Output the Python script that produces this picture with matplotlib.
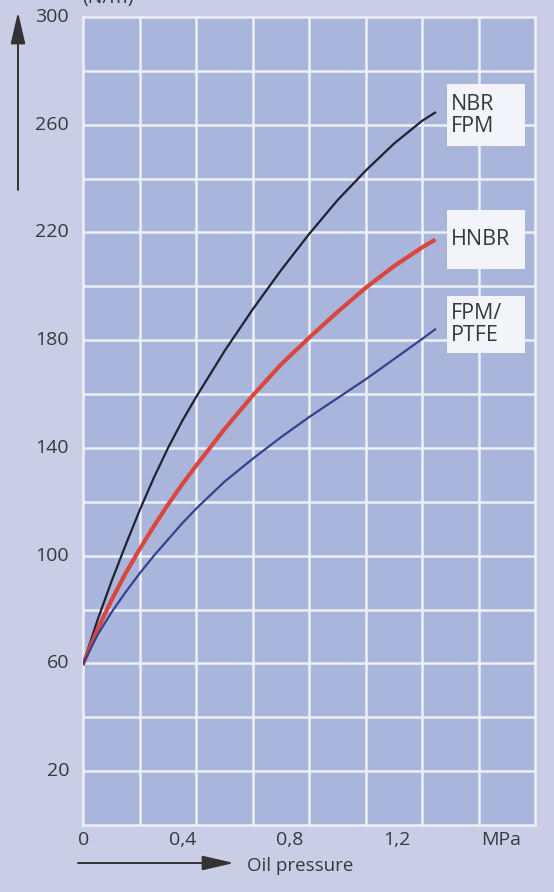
import matplotlib
matplotlib.use('Agg')
import matplotlib.pyplot as plt
from matplotlib.patches import Rectangle, FancyArrowPatch
import matplotlib.transforms as mtransforms

# Данные
pressure_nbr = [0, 0.05, 0.1, 0.15, 0.2, 0.25, 0.3, 0.35, 0.4, 0.5, 0.6, 0.7, 0.8, 0.9, 1.0, 1.1, 1.2, 1.245]
force_nbr = [60, 76, 90.5, 104, 117, 129, 140, 150, 159, 176, 191.5, 206, 219.5, 232, 243, 253, 261.5, 264.5]

pressure_hnbr = [0, 0.05, 0.1, 0.15, 0.2, 0.25, 0.3, 0.35, 0.4, 0.5, 0.6, 0.7, 0.8, 0.9, 1.0, 1.1, 1.2, 1.24]
force_hnbr = [60, 72.5, 83.5, 93.5, 102.5, 111, 119, 126.5, 133.5, 147, 159.5, 171, 181, 190.5, 199.5, 207.5, 214.5, 217]

pressure_ptfe = [0, 0.05, 0.1, 0.15, 0.2, 0.25, 0.3, 0.35, 0.4, 0.5, 0.6, 0.7, 0.8, 0.9, 1.0, 1.1, 1.2, 1.245]
force_ptfe = [60, 70.5, 79, 86.5, 93.5, 100, 106, 112, 117.5, 127.5, 136, 144, 151.5, 158.5, 165.5, 173, 180.5, 184]

y_ticks = [20, 60, 100, 140, 180, 220, 260, 300]
x_labels = ['0', '0,4', '0,8', '1,2']
curve_labels = ['NBR\nFPM', 'HNBR', 'FPM/\nPTFE']

# Оформление
W, H = 554, 892
BG = '#c9cee6'
PLOT_BG = '#a9b5da'
GRID = '#eef0f8'
TXT = '#38383f'
FONT = 'Open Sans'

fig = plt.figure(figsize=(W / 100, H / 100), dpi=100, facecolor=BG)
ax = fig.add_axes([83.3 / W, 1 - 825 / H, 452 / W, 808 / H])
ax.set_facecolor(PLOT_BG)
ax.set_xlim(0, 1.6)
ax.set_ylim(0, 300)

# Сетка
for x in [i * 0.2 for i in range(1, 8)]:
    ax.axvline(x, color=GRID, lw=1.8, zorder=1)
for y in range(20, 300, 20):
    ax.axhline(y, color=GRID, lw=1.8, zorder=1)
for s in ax.spines.values():
    s.set_color(GRID)
    s.set_linewidth(1.8)

ax.set_xticks([])
ax.set_yticks([])

# Кривые
ax.plot(pressure_nbr, force_nbr, color='#1f2233', lw=1.6, zorder=3, solid_joinstyle='round')
ax.plot(pressure_hnbr, force_hnbr, color='#d9473f', lw=3.0, zorder=3, solid_joinstyle='round')
ax.plot(pressure_ptfe, force_ptfe, color='#34428f', lw=1.6, zorder=3, solid_joinstyle='round')

# Подписи кривых в белых рамках
boxes = [(275, 252), (228.5, 206.3), (196.3, 175.2)]
for (top, bottom), lab in zip(boxes, curve_labels):
    ax.add_patch(Rectangle((1.287, bottom), 0.277, top - bottom,
                           facecolor='#f3f4f9', edgecolor='none', zorder=4))
    ax.text(1.30, (top + bottom) / 2, lab, ha='left', va='center',
            fontsize=15.5, color=TXT, family=FONT, linespacing=1.05, zorder=5)

# Подписи оси Y
for v in y_ticks:
    ax.text(-0.05, v, str(v), ha='right', va='center', fontsize=14,
            color=TXT, family=FONT, clip_on=False)

# Подписи оси X (смещены, как на оригинале)
trans = mtransforms.blended_transform_factory(ax.transData, fig.transFigure)
for xpos, lab in zip([0, 0.353, 0.732, 1.11], x_labels):
    ax.text(xpos, 1 - 840 / H, lab, ha='center', va='center', fontsize=14,
            color=TXT, family=FONT, transform=trans)
ax.text(1.479, 1 - 840 / H, 'MPa', ha='center', va='center', fontsize=14,
        color=TXT, family=FONT, transform=trans)

# Стрелки осей
arrow_style = dict(arrowstyle='-|>,head_length=1.3,head_width=0.3', color='#333333',
                   lw=1.4, shrinkA=0, shrinkB=0, mutation_scale=15)
fig.add_artist(FancyArrowPatch((18 / W, 1 - 190 / H), (18 / W, 1 - 12 / H),
                               transform=fig.transFigure, **arrow_style))
fig.add_artist(FancyArrowPatch((78 / W, 1 - 863 / H), (234 / W, 1 - 863 / H),
                               transform=fig.transFigure, **arrow_style))
fig.text(247 / W, 1 - 866 / H, 'Oil pressure', ha='left', va='center',
         fontsize=13.5, color=TXT, family=FONT)

# Обрезанная подпись оси Y сверху (на оригинале срезана краем)
fig.text(108 / W, 1 - 3 / H, '(N/m)', ha='center', va='baseline',
         fontsize=14, color=TXT, family=FONT)

fig.savefig('out.png', dpi=100, facecolor=BG)
